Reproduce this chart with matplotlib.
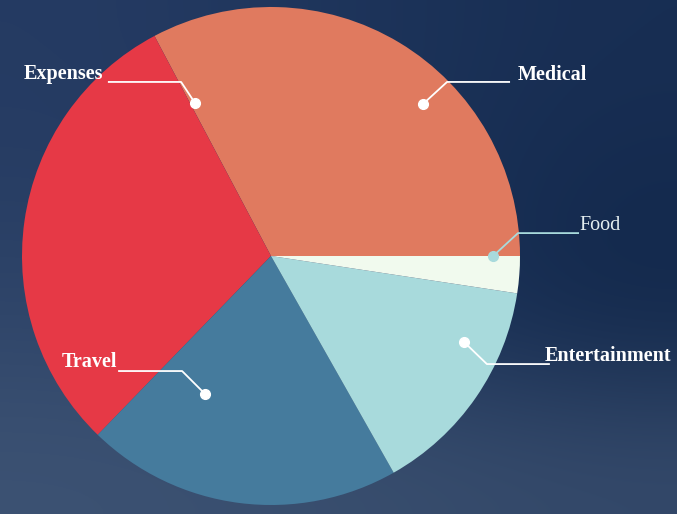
import numpy as np
import matplotlib.pyplot as plt
from matplotlib.colors import to_rgb

# données (parts du camembert, en %)
categories = ['Medical', 'Expenses', 'Travel', 'Entertainment', 'Food']
values = [32.75, 30.0, 20.45, 14.4, 2.4]
colors = ['#e07a5f', '#e63946', '#457b9d', '#a8dadc', '#f1faee']

# lignes de rappel : point, coude, extrémité (rayon du camembert = 1)
leaders = {
    'Medical':       [(0.610, 0.610), (0.707, 0.699), (0.960, 0.699)],
    'Expenses':      [(-0.305, 0.614), (-0.361, 0.699), (-0.655, 0.699)],
    'Food':          [(0.892, 0.000), (0.992, 0.092), (1.237, 0.092)],
    'Entertainment': [(0.775, -0.345), (0.867, -0.434), (1.120, -0.434)],
    'Travel':        [(-0.265, -0.554), (-0.357, -0.462), (-0.614, -0.462)],
}
# position des étiquettes (x, ligne de base, alignement)
label_pos = {
    'Medical':       (0.992, 0.707, 'left'),
    'Expenses':      (-0.675, 0.711, 'right'),
    'Food':          (1.237, 0.104, 'left'),
    'Entertainment': (1.100, -0.422, 'left'),
    'Travel':        (-0.618, -0.446, 'right'),
}

# fond (dégradé bleu nuit)
bg_grid = [
    ['#253b63', '#21375e', '#1b3258', '#182e53'],
    ['#283e64', '#23395f', '#1a3157', '#142a4e'],
    ['#30466a', '#2a4065', '#1c335a', '#13294c'],
    ['#3c5273', '#3a5070', '#384d6d', '#34496a'],
]
bg = np.array([[to_rgb(c) for c in row] for row in bg_grid])

W, H = 677, 514
cx, cy, R = 271, 256, 249
xlim = (-cx / R, (W - cx) / R)
ylim = (-(H - cy) / R, cy / R)

fig = plt.figure(figsize=(W / 100, H / 100), dpi=100)
ax = fig.add_axes([0, 0, 1, 1])

ax.imshow(bg, extent=[xlim[0], xlim[1], ylim[0], ylim[1]], aspect='auto',
          interpolation='bicubic', zorder=0)

ax.pie(values, colors=colors, startangle=0, counterclock=True, radius=1,
       center=(0, 0), wedgeprops={'linewidth': 0, 'zorder': 1})

for name in categories:
    pts = np.array(leaders[name])
    if name == 'Food':
        lc, tc, fw = '#a8dadc', '#e4eef0', 'normal'
    else:
        lc, tc, fw = 'white', 'white', 'bold'
    ax.plot(pts[:, 0], pts[:, 1], color=lc, lw=1.3, zorder=3,
            solid_capstyle='butt')
    ax.plot(pts[0, 0], pts[0, 1], 'o', color=lc, ms=7, zorder=4)
    tx, ty, ha = label_pos[name]
    ax.text(tx, ty, name, ha=ha, va='baseline', color=tc,
            fontsize=14.5, fontweight=fw, family='Liberation Serif', zorder=5)

ax.set_xlim(xlim)
ax.set_ylim(ylim)
ax.set_aspect('auto')
ax.set_axis_off()

fig.savefig('out.png', dpi=100)
